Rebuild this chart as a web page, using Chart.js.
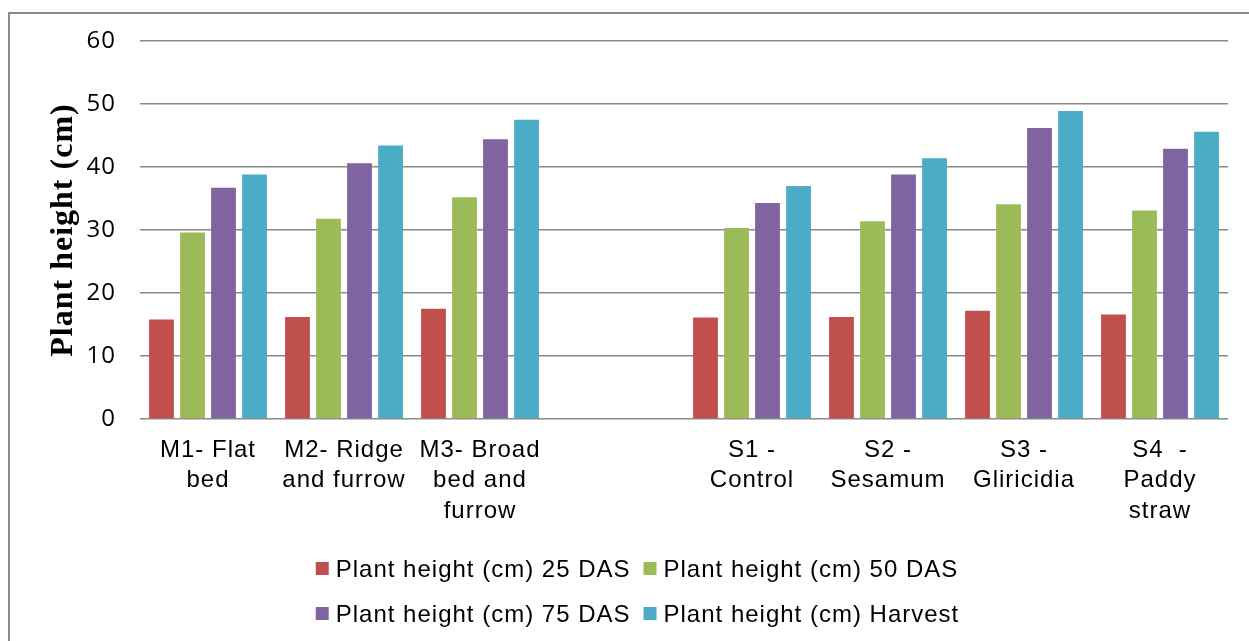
<!DOCTYPE html>
<html>
<head>
<meta charset="utf-8">
<script src="https://cdn.jsdelivr.net/npm/chart.js@4.4.1/dist/chart.umd.min.js"></script>
<style>
html,body{margin:0;padding:0;background:#fff;overflow:hidden}
#wrap{position:relative;width:1249px;height:641px}
</style>
</head>
<body>
<div id="wrap"><canvas id="c"></canvas></div>
<script>
// ---- data ----
const categories = [
  ["M1- Flat", "bed"],
  ["M2- Ridge", "and furrow"],
  ["M3- Broad", "bed and", "furrow"],
  "",
  ["S1 -", "Control"],
  ["S2 -", "Sesamum"],
  ["S3 -", "Gliricidia"],
  ["S4  -", "Paddy", "straw"]
];
const seriesNames = [
  "Plant height (cm) 25 DAS",
  "Plant height (cm) 50 DAS",
  "Plant height (cm) 75 DAS",
  "Plant height (cm) Harvest"
];
const das25   = [15.8, 16.2, 17.5, null, 16.1, 16.2, 17.2, 16.6];
const das50   = [29.6, 31.8, 35.2, null, 30.3, 31.4, 34.1, 33.1];
const das75   = [36.7, 40.6, 44.4, null, 34.3, 38.8, 46.2, 42.9];
const harvest = [38.8, 43.4, 47.5, null, 37.0, 41.4, 48.9, 45.6];
const yTickValues = [0, 10, 20, 30, 40, 50, 60];
const yAxisTitle = "Plant height (cm)";

// ---- styles ----
const colors = ["#C0504D", "#9BBB59", "#8064A2", "#4BACC6"];
const sansFont = '"Liberation Sans", Arial, Helvetica, sans-serif';

const spacingPlugin = {
  id: 'spacing',
  beforeDraw(chart) { chart.ctx.letterSpacing = '1px'; }
};

const framePlugin = {
  id: 'frame',
  beforeDraw(chart) {
    const ctx = chart.ctx;
    ctx.save();
    ctx.strokeStyle = '#8a8a8a';
    ctx.lineWidth = 2;
    ctx.beginPath();
    ctx.moveTo(9, chart.height + 10);
    ctx.lineTo(9, 13);
    ctx.lineTo(chart.width + 10, 13);
    ctx.stroke();
    ctx.restore();
  }
};

const legendPlugin = {
  id: 'customLegend',
  afterDraw(chart) {
    const ctx = chart.ctx;
    const ds = chart.data.datasets;
    ctx.save();
    ctx.letterSpacing = '1px';
    ctx.font = '24px ' + sansFont;
    ctx.textAlign = 'left';
    ctx.textBaseline = 'alphabetic';
    const box = 13, gapText = 7, gapItem = 13;
    const rows = [[0, 1], [2, 3]];
    const baselines = [577, 622];
    const w0 = Math.max(ctx.measureText(ds[0].label).width, ctx.measureText(ds[2].label).width);
    const w1 = Math.max(ctx.measureText(ds[1].label).width, ctx.measureText(ds[3].label).width);
    const total = 2 * (box + gapText) + w0 + gapItem + w1;
    const start = 637.5 - total / 2;
    const colX = [start, start + box + gapText + w0 + gapItem];
    rows.forEach((row, r) => {
      row.forEach((di, c) => {
        const x = colX[c];
        const yb = baselines[r];
        ctx.fillStyle = ds[di].backgroundColor;
        ctx.fillRect(x, yb - 15, box, box);
        ctx.fillStyle = '#000';
        ctx.fillText(ds[di].label, x + box + gapText, yb);
      });
    });
    ctx.restore();
  }
};

const seriesData = [das25, das50, das75, harvest];

new Chart(document.getElementById('c'), {
  type: 'bar',
  data: {
    labels: categories,
    datasets: seriesData.map((d, i) => ({
      label: seriesNames[i],
      data: d,
      backgroundColor: colors[i],
      borderWidth: 0,
      categoryPercentage: 0.912,
      barPercentage: 0.8
    }))
  },
  options: {
    responsive: true,
    maintainAspectRatio: false,
    animation: false,
    layout: { padding: { left: 0, right: 21, top: 41, bottom: 0 } },
    plugins: {
      legend: { display: false },
      tooltip: { enabled: false }
    },
    scales: {
      x: {
        grid: { display: false, drawTicks: false },
        border: { display: false },
        ticks: {
          autoSkip: false,
          maxRotation: 0,
          minRotation: 0,
          padding: 16,
          color: '#000',
          font: { family: sansFont, size: 24, lineHeight: 1.27 }
        },
        afterFit(scale) { scale.height = 222; }
      },
      y: {
        min: 0,
        max: 60,
        afterBuildTicks(scale) { scale.ticks = yTickValues.map(v => ({ value: v })); },
        grid: { color: '#8a8a8a', lineWidth: 1.6, drawTicks: false },
        border: { display: false },
        ticks: {
          padding: 24,
          color: '#000',
          font: { family: '"Open Sans", "DejaVu Sans", sans-serif', size: 24 }
        },
        title: {
          display: true,
          text: yAxisTitle,
          color: '#000',
          font: { family: '"Liberation Serif", "Times New Roman", serif', size: 32, weight: 'bold' },
          padding: { top: 45, bottom: 0 }
        },
        afterFit(scale) { scale.width = 140; }
      }
    }
  },
  plugins: [spacingPlugin, framePlugin, legendPlugin]
});
</script>
</body>
</html>
